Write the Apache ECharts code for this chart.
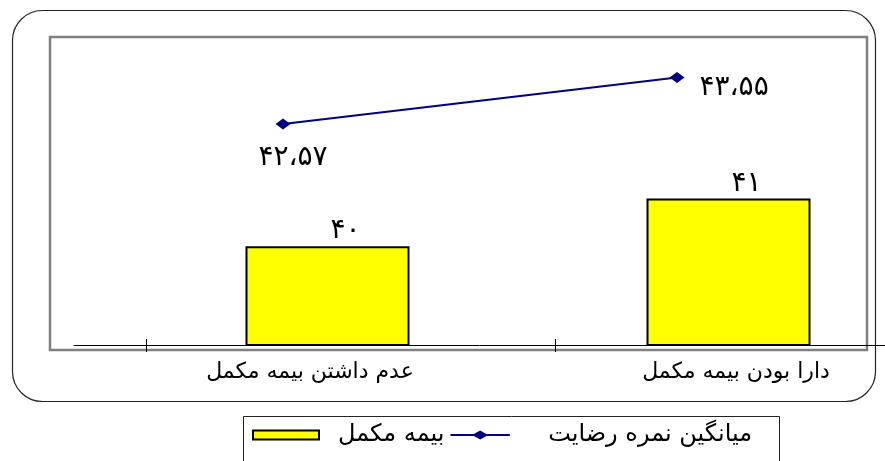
<!DOCTYPE html>
<html><head><meta charset="utf-8">
<script src="https://cdn.jsdelivr.net/npm/echarts@6/dist/echarts.min.js"></script>
<style>html,body{margin:0;padding:0;background:#fff}#c{width:885px;height:461px}</style>
</head><body><div id="c"></div>
<script>
const categories = ['عدم داشتن بیمه مکمل', 'دارا بودن بیمه مکمل'];
const barName = 'بیمه مکمل';
const lineName = 'میانگین نمره رضایت';
const barValues = [40, 41];
const lineValues = [42.57, 43.55];

const FONT = 'DejaVu Sans';
const faDigits = '۰۱۲۳۴۵۶۷۸۹';
function toFa(v) {
  return String(v).replace(/[0-9]/g, d => faDigits[+d]).replace('.', '،');
}
const lineLabelStyles = [
  { position: 'bottom', distance: 14, offset: [10, 0] },
  { position: 'right', distance: 15, offset: [0, 10] }
];
const lineLegendIcon = 'path://M0,4 L26,4 L33,0 L40,4 L66,4 L66,6 L40,6 L33,10 L26,6 L0,6 Z';

const yMin = 37.92, yMax = 44.4;
const chart = echarts.init(document.getElementById('c'), null, { renderer: 'canvas' });
const hiddenY = (i) => ({ type: 'value', gridIndex: i, min: yMin, max: yMax, show: false });
chart.setOption({
  animation: false,
  backgroundColor: '#fff',
  textStyle: { fontFamily: FONT },
  grid: [
    { left: 327.5, width: 401, top: 37, bottom: 116 },
    { left: 283, width: 394, top: 37, bottom: 116 },
    { left: 310, width: 426, top: 37, bottom: 116 },
    { left: 74, width: 811, top: 37, bottom: 116 }
  ],
  xAxis: [
    { type: 'category', gridIndex: 0, data: categories, boundaryGap: false, show: false },
    { type: 'category', gridIndex: 1, data: categories, boundaryGap: false, show: false },
    { type: 'category', gridIndex: 2, data: categories, boundaryGap: false,
      axisLine: { show: false }, axisTick: { show: false }, splitLine: { show: false },
      axisLabel: { fontSize: 22, color: '#000', margin: 16, fontFamily: FONT } },
    { type: 'value', gridIndex: 3, min: 0, max: 811, splitLine: { show: false },
      axisLine: { show: true, lineStyle: { color: '#000', width: 1 } },
      axisTick: { show: true, inside: true, length: 6, customValues: [72, 481], lineStyle: { color: '#000' } },
      axisLabel: { show: false } },
    { type: 'value', gridIndex: 3, min: 0, max: 811, splitLine: { show: false }, position: 'bottom',
      axisLine: { show: false },
      axisTick: { show: true, inside: false, length: 7, customValues: [72, 481], lineStyle: { color: '#000' } },
      axisLabel: { show: false } }
  ],
  yAxis: [hiddenY(0), hiddenY(1), hiddenY(2), hiddenY(3)],
  legend: {
    left: 252, top: 423, padding: 0, itemGap: 6,
    itemWidth: 66, itemHeight: 9,
    textStyle: { fontSize: 24, color: '#000', fontFamily: FONT },
    data: [
      { name: barName, icon: 'rect', textStyle: { padding: [0, 0, 0, 14] } },
      { name: lineName, icon: lineLegendIcon, itemStyle: { color: '#000080', borderWidth: 0 },
        textStyle: { padding: [0, 0, 0, 30] } }
    ]
  },
  graphic: [
    { type: 'rect', z: -10, shape: { x: 12.5, y: 10.5, width: 863, height: 391, r: 30 },
      style: { fill: 'none', stroke: '#222', lineWidth: 1.2 } },
    { type: 'rect', z: -10, shape: { x: 50, y: 37, width: 817, height: 313 },
      style: { fill: 'none', stroke: '#808080', lineWidth: 2.5 } },
    { type: 'rect', z: -10, shape: { x: 243.5, y: 416.5, width: 536, height: 60 },
      style: { fill: 'none', stroke: '#222', lineWidth: 1 } }
  ],
  series: [
    {
      name: barName, type: 'bar', xAxisIndex: 0, yAxisIndex: 0,
      data: barValues, barWidth: 164,
      itemStyle: { color: '#FFFF00', borderColor: '#000', borderWidth: 2 },
      label: { show: true, position: 'top', distance: 1, offset: [18, 0],
        fontSize: 28, color: '#000', fontFamily: FONT, formatter: p => toFa(p.value) }
    },
    {
      name: lineName, type: 'line', xAxisIndex: 1, yAxisIndex: 1,
      data: lineValues.map((v, i) => ({ value: v, label: lineLabelStyles[i] })),
      symbol: 'diamond', symbolSize: [15, 11],
      lineStyle: { color: '#000080', width: 2 },
      itemStyle: { color: '#000080' },
      label: { show: true, fontSize: 28, color: '#000', fontFamily: FONT, formatter: p => toFa(p.value) }
    }
  ]
});
</script></body></html>
